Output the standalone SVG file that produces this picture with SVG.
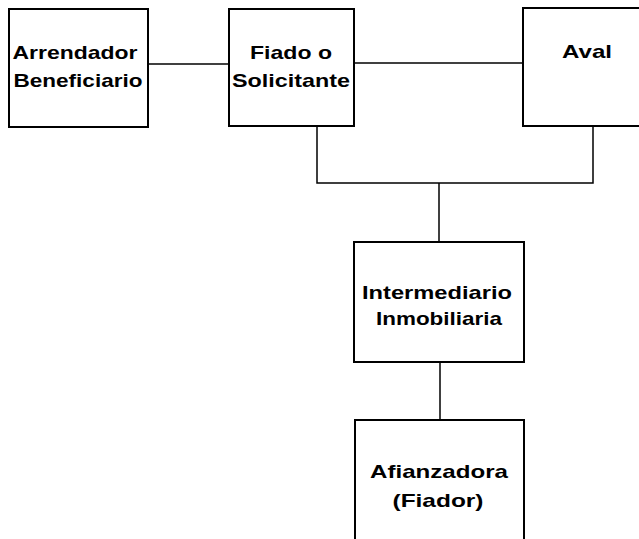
<svg xmlns="http://www.w3.org/2000/svg" width="639" height="539" viewBox="0 0 639 539">
<style>
.box{fill:#fff;stroke:#000;stroke-width:2}
.ln{fill:none;stroke:#000;stroke-width:1.5}
text{font-family:"Liberation Sans","DejaVu Sans",sans-serif;font-weight:bold;font-size:19px;fill:#000;text-anchor:middle}
</style>
<rect width="639" height="539" fill="#fff"/>
<g id="connectors">
<line class="ln" x1="148" y1="64" x2="229" y2="64"/>
<line class="ln" x1="354" y1="63" x2="523" y2="63"/>
<polyline class="ln" points="317,126 317,183 593,183 593,126"/>
<line class="ln" x1="439" y1="183" x2="439" y2="242"/>
<line class="ln" x1="440" y1="362" x2="440" y2="420"/>
</g>
<g id="arrendador">
<rect class="box" x="9" y="9" width="139" height="118"/>
<text x="75" y="59" textLength="125" lengthAdjust="spacingAndGlyphs">Arrendador</text>
<text x="78" y="87" textLength="129" lengthAdjust="spacingAndGlyphs">Beneficiario</text>
</g>
<g id="fiado">
<rect class="box" x="229" y="9" width="125" height="117"/>
<text x="291" y="59" textLength="82" lengthAdjust="spacingAndGlyphs">Fiado o</text>
<text x="291" y="87" textLength="118" lengthAdjust="spacingAndGlyphs">Solicitante</text>
</g>
<g id="aval">
<rect class="box" x="523" y="8" width="120" height="118"/>
<text x="587" y="58" textLength="50" lengthAdjust="spacingAndGlyphs">Aval</text>
</g>
<g id="intermediario">
<rect class="box" x="354" y="242" width="170" height="120"/>
<text x="437" y="299" textLength="150" lengthAdjust="spacingAndGlyphs">Intermediario</text>
<text x="439" y="325" textLength="126" lengthAdjust="spacingAndGlyphs">Inmobiliaria</text>
</g>
<g id="afianzadora">
<rect class="box" x="355" y="420" width="169" height="130"/>
<text x="439" y="478" textLength="138" lengthAdjust="spacingAndGlyphs">Afianzadora</text>
<text x="438" y="507" textLength="91" lengthAdjust="spacingAndGlyphs">(Fiador)</text>
</g>
</svg>
